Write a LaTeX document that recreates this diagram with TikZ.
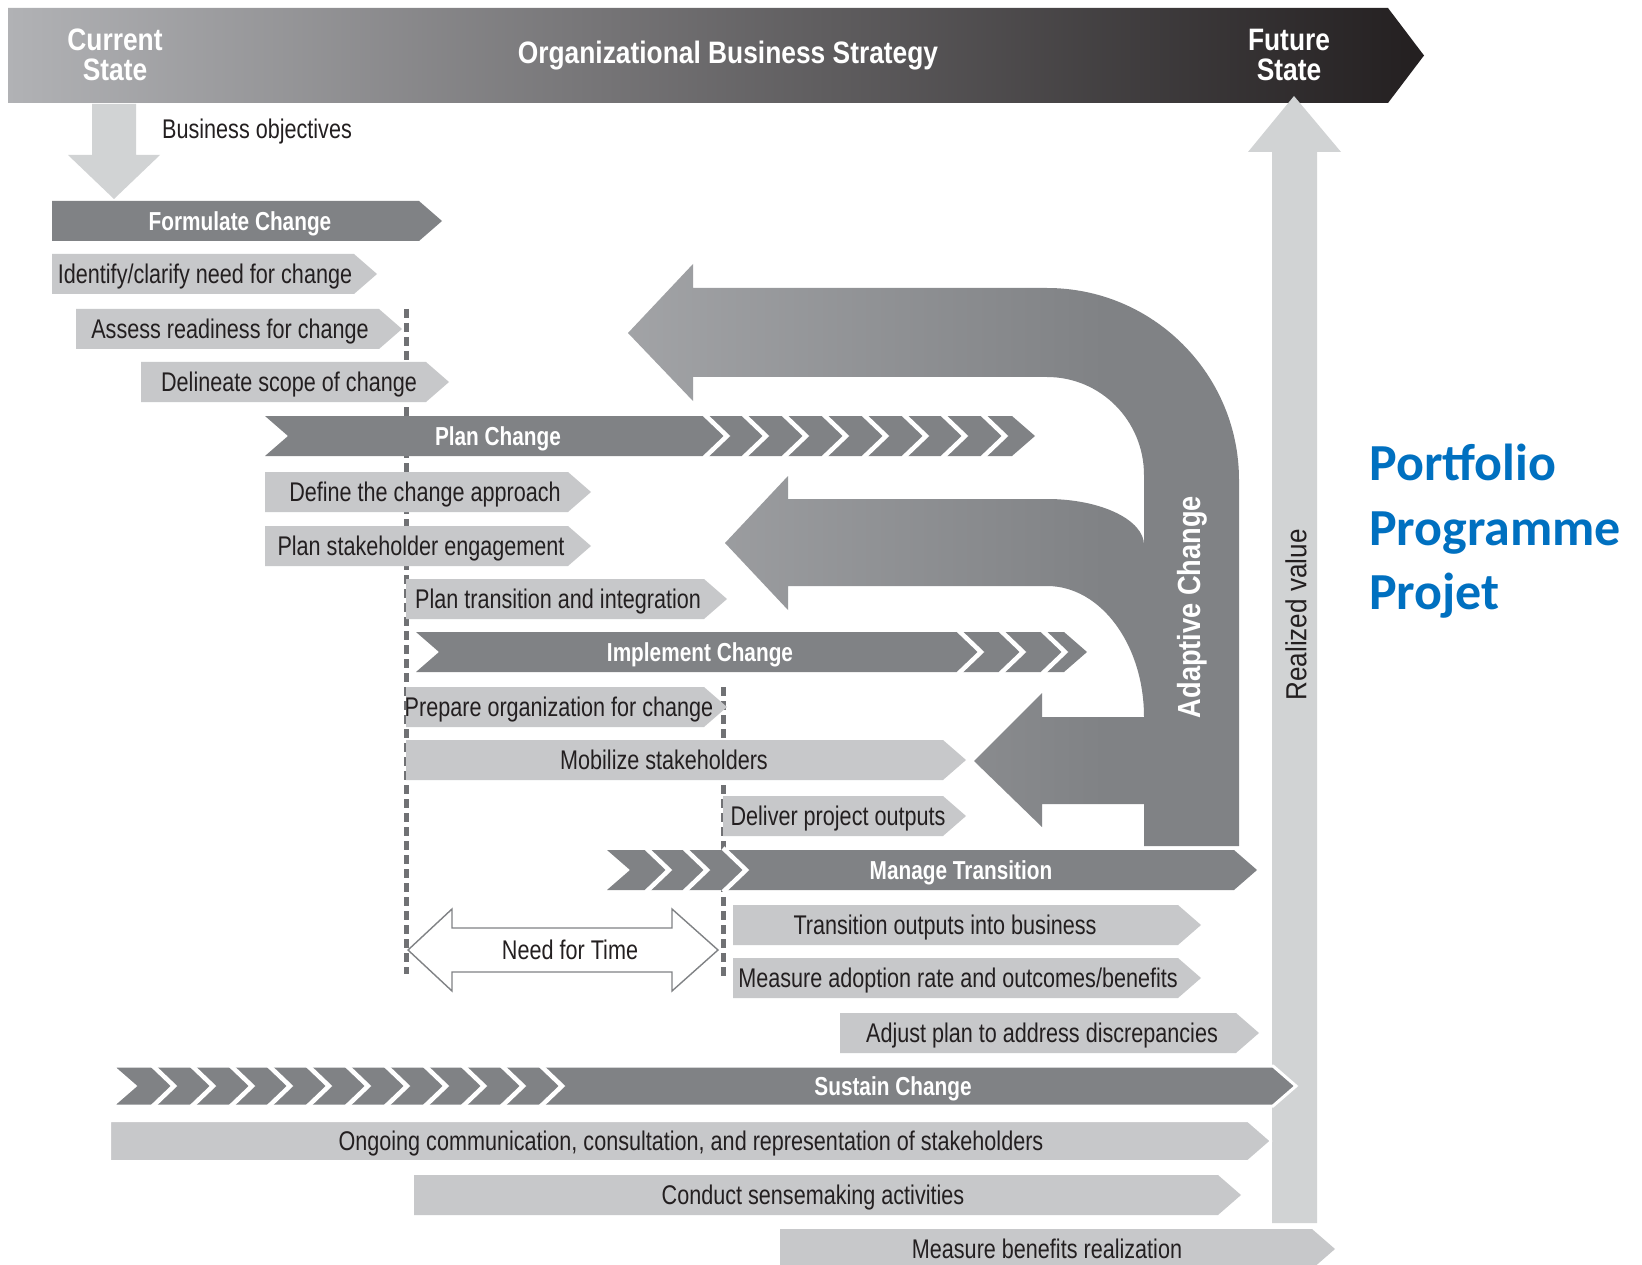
\documentclass[tikz,border=0pt]{standalone}
\usepackage{fontspec}
\setmainfont{Liberation Sans}
\newfontfamily\narrowsans[FakeStretch=0.8]{Liberation Sans}
\newfontfamily\widesans[FakeStretch=0.9]{Liberation Sans}
\newfontfamily\titlesans[FakeStretch=0.85]{Liberation Sans}
\newfontfamily\calsans{Carlito}

\definecolor{bardark}{HTML}{808285}
\definecolor{barlight}{HTML}{C7C8CA}
\definecolor{shaftpale}{HTML}{D1D3D4}
\definecolor{ink}{HTML}{231F20}
\definecolor{dashgrey}{HTML}{707174}
\definecolor{bannerleft}{HTML}{B1B2B5}
\definecolor{bannerright}{HTML}{231F20}
\definecolor{adlight}{HTML}{B7B8BB}
\definecolor{pmblue}{HTML}{0070C0}

\pgfdeclarehorizontalshading{adaptshade}{100bp}{color(0bp)=(adlight); color(64bp)=(bardark); color(100bp)=(bardark)}

\tikzset{
  lab/.style={font=\narrowsans\fontsize{27}{30}\selectfont, text=ink, inner sep=0pt, anchor=base},
  hdr/.style={font=\narrowsans\bfseries\fontsize{26}{30}\selectfont, text=white, inner sep=0pt, anchor=base},
  ttl/.style={font=\titlesans\bfseries\fontsize{31}{30}\selectfont, text=white, inner sep=0pt, align=center},
  gapline/.style={draw=white, line width=4.5pt, line join=miter},
  dashline/.style={draw=dashgrey, line width=5pt, dash pattern=on 9pt off 5pt},
  paleshaft/.style={fill=shaftpale},
  bluelab/.style={font=\calsans\bfseries\fontsize{52}{64}\selectfont, text=pmblue, inner sep=0pt, anchor=base west},
}

% light task bar: name, left, straight right end, top, text centre x, text
\newcommand{\taskbar}[6]{%
  \fill[barlight] (#2,#4) -- (#3,#4) -- ++(23,20) -- ++(-23,20) -- (#2,#4+40) -- cycle;
  \node[lab] (#1) at (#5,#4+29.5) {#6};}
% dark phase bar with notched tail: name, left, tip, top, text centre x, text
\newcommand{\phasebar}[6]{%
  \fill[bardark] (#2,#4) -- (#3-23,#4) -- (#3,#4+20) -- (#3-23,#4+40) -- (#2,#4+40) -- (#2+23,#4+20) -- cycle;
  \node[hdr] (#1) at (#5,#4+29.3) {#6};}

\begin{document}
\begin{tikzpicture}[x=1pt,y=-1pt]
\useasboundingbox (0,0) rectangle (1642,1265);
\fill[white] (0,0) rectangle (1642,1265);

% strategy banner
\shade[left color=bannerleft, right color=bannerright]
  (8,8) -- (1388,8) -- (1424,55.5) -- (1388,103) -- (8,103) -- cycle;
\node[ttl] (cur) at (115,55) {Current\\State};
\node[ttl] (obs) at (728,56) {Organizational Business Strategy};
\node[ttl] (fut) at (1289,55) {Future\\State};

% business objectives arrow
\fill[paleshaft] (92,104) -- (92,155) -- (68,155) -- (114,199) -- (160,155) -- (136,155) -- (136,104) -- cycle;
\node[lab, anchor=base west] (bobj) at (162,139) {Business objectives};

% dashed time markers
\coordinate (d1a) at (406,309); \coordinate (d1b) at (406,974);
\coordinate (d2a) at (723,687); \coordinate (d2b) at (723,976);
\draw[dashline] (d1a) -- (d1b);
\draw[dashline] (d2a) -- (d2b);

% adaptive change feedback arrows
\path[shading=adaptshade]
  (628,333) -- (693,264) -- (693,288) -- (1047,288)
  .. controls (1153,288) and (1239,374) .. (1239,480)
  -- (1239,846) -- (1144,846) -- (1144,804) -- (1042,804) -- (1042,827)
  -- (974,761) -- (1042,693) -- (1042,717) -- (1144,717)
  .. controls (1144,645) and (1101,586) .. (1047,586)
  -- (788,586) -- (788,610) -- (725,543) -- (788,476) -- (788,499) -- (1047,499)
  .. controls (1101,499) and (1144,520) .. (1144,545)
  -- (1144,475)
  .. controls (1144,421) and (1101,377) .. (1047,377)
  -- (693,377) -- (693,401) -- cycle;
\node[font=\titlesans\bfseries\fontsize{32}{32}\selectfont, text=white, rotate=90, inner sep=0pt] (adc) at (1192,607) {Adaptive Change};

% realized value arrow
\fill[paleshaft] (1272,1223) -- (1272,152) -- (1248,152) -- (1294,96) -- (1341,152) -- (1317,152) -- (1317,1223) -- cycle;
\node[font=\widesans\fontsize{29}{30}\selectfont, text=ink, rotate=90, inner sep=0pt] (rv) at (1296,615) {Realized value};

% formulate change
\fill[bardark] (52,201) -- (419,201) -- (442,221) -- (419,241) -- (52,241) -- cycle;
\node[hdr] (frm) at (240,230.3) {Formulate Change};
\taskbar{idn}{52}{354}{254}{205}{Identify/clarify need for change}
\taskbar{ass}{76}{379}{309}{230}{Assess readiness for change}
\taskbar{del}{141}{426}{362}{289}{Delineate scope of change}

% plan change
\phasebar{pln}{265}{1035}{416}{498}{Plan Change}
\foreach \g in {704,743,783,823,863,903,942,982}
  \draw[gapline] (\g,414) -- (\g+23,436) -- (\g,458);
\taskbar{def}{265}{568}{472}{425}{Define the change approach}
\taskbar{stk}{265}{568}{526}{421}{Plan stakeholder engagement}
\taskbar{ptr}{406}{704}{579}{558}{Plan transition and integration}

% implement change
\phasebar{imp}{416}{1087}{632}{700}{Implement Change}
\foreach \g in {958,1000,1042}
  \draw[gapline] (\g,630) -- (\g+23,652) -- (\g,674);
\taskbar{prep}{406}{704}{687}{559}{Prepare organization for change}
\taskbar{mob}{406}{943}{740}{664}{Mobilize stakeholders}
\taskbar{dlv}{723}{943}{796}{838}{Deliver project outputs}

% manage transition
\phasebar{mng}{607}{1257}{850}{961}{Manage Transition}
\foreach \g in {646,684,723}
  \draw[gapline] (\g,848) -- (\g+23,870) -- (\g,892);
\taskbar{trn}{733}{1178}{905}{945}{Transition outputs into business}
\taskbar{mad}{733}{1178}{958}{958}{Measure adoption rate and outcomes/benefits}
\taskbar{adj}{840}{1236}{1013}{1042}{Adjust plan to address discrepancies}

% need for time
\filldraw[fill=white, draw=bardark, line width=1.4pt, line join=miter]
  (408,950) -- (452,909) -- (452,928) -- (672,928) -- (672,909) -- (718,950)
  -- (672,991) -- (672,972) -- (452,972) -- (452,991) -- cycle;
\node[lab] (nft) at (570,959.5) {Need for Time};

% sustain change
\filldraw[fill=bardark, draw=white, line width=3pt]
  (112,1066) -- (1273,1066) -- (1296,1086) -- (1273,1106) -- (112,1106) -- (135,1086) -- cycle;
\node[hdr] (sus) at (893,1095.3) {Sustain Change};
\foreach \g in {151,190,229,267,306,345,384,423,461,500,539}
  \draw[gapline] (\g,1064) -- (\g+23,1086) -- (\g,1108);
\filldraw[fill=barlight, draw=white, line width=2pt]
  (110,1121) -- (1248,1121) -- (1271,1141) -- (1248,1161) -- (110,1161) -- cycle;
\node[lab] (ong) at (691,1150.5) {Ongoing communication, consultation, and representation of stakeholders};
\taskbar{cnd}{414}{1218}{1175}{813}{Conduct sensemaking activities}
\taskbar{mbr}{780}{1312}{1229}{1047}{Measure benefits realization}

% management levels
\node[bluelab] (pf) at (1369,480) {Portfolio};
\node[bluelab] (pg) at (1369,545) {Programme};
\node[bluelab] (pj) at (1369,609) {Projet};
\end{tikzpicture}
\end{document}
